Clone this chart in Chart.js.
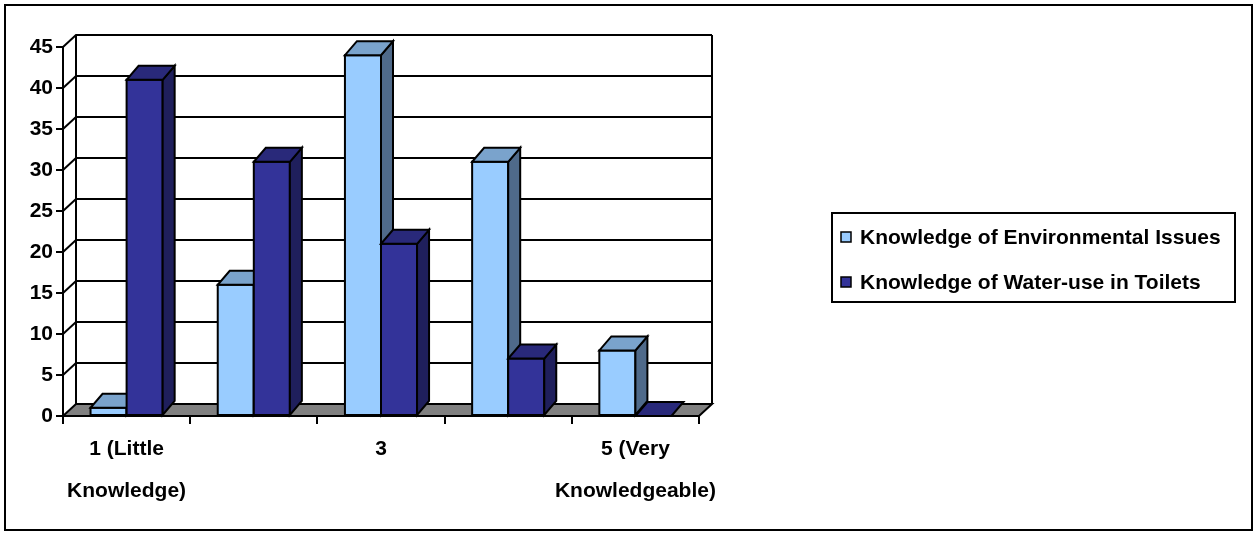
<!DOCTYPE html>
<html><head><meta charset="utf-8">
<script src="https://cdn.jsdelivr.net/npm/chart.js@4.4.0/dist/chart.umd.min.js"></script>
<style>html,body{margin:0;padding:0;background:#fff}canvas{display:block}</style>
</head><body>
<canvas id="c" width="1256" height="533"></canvas>
<script>
const categories = ["1 (Little Knowledge)", "2", "3", "4", "5 (Very Knowledgeable)"];
const tickLabels = [["1 (Little", "Knowledge)"], "", "3", "", ["5 (Very", "Knowledgeable)"]];
const envValues = [1, 16, 44, 31, 8];
const waterValues = [41, 31, 21, 7, 0];
const seriesNames = ["Knowledge of Environmental Issues", "Knowledge of Water-use in Toilets"];
const yTicks = [0, 5, 10, 15, 20, 25, 30, 35, 40, 45];

// pick a narrow face if one is installed, otherwise regular Liberation Sans
function hasFont(name) {
  const c = document.createElement('canvas').getContext('2d');
  c.font = "bold 40px monospace";
  const w0 = c.measureText("Knowledge of Water").width;
  c.font = "bold 40px '" + name + "', monospace";
  return Math.abs(c.measureText("Knowledge of Water").width - w0) > 1;
}
let FONT = "'Liberation Sans', Arial, sans-serif", FS = 21;
if (hasFont('Liberation Sans Narrow')) { FONT = "'Liberation Sans Narrow', 'Liberation Sans', sans-serif"; FS = 25.5; }
else if (hasFont('Arial Narrow')) { FONT = "'Arial Narrow', 'Liberation Sans', sans-serif"; FS = 25.5; }

const WALL = {dx: 13, dy: -12};
const BAR = {dx: 12, dy: -14};
const faces = [
  {front: '#99CCFF', top: '#7AA3CC', side: '#4F6A8A'},
  {front: '#333399', top: '#29297A', side: '#1F1F5C'}
];

function poly(ctx, pts, fill) {
  ctx.beginPath();
  ctx.moveTo(pts[0][0], pts[0][1]);
  for (let k = 1; k < pts.length; k++) ctx.lineTo(pts[k][0], pts[k][1]);
  ctx.closePath();
  if (fill) { ctx.fillStyle = fill; ctx.fill(); }
  ctx.stroke();
}

const threeD = {
  id: 'threeD',
  beforeDatasetsDraw(chart) {
    const {ctx, chartArea: a, scales: {y}} = chart;
    ctx.save();
    ctx.lineWidth = 2; ctx.strokeStyle = '#000'; ctx.lineJoin = 'miter';
    for (const v of yTicks) {
      if (v === 0) continue;
      const py = y.getPixelForValue(v);
      ctx.beginPath();
      ctx.moveTo(a.left, py);
      ctx.lineTo(a.left + WALL.dx, py + WALL.dy);
      ctx.lineTo(a.right + WALL.dx, py + WALL.dy);
      ctx.stroke();
    }
    const top = y.getPixelForValue(yTicks[yTicks.length - 1]) + WALL.dy;
    const y0 = y.getPixelForValue(0);
    ctx.beginPath();
    ctx.moveTo(a.left + WALL.dx, top); ctx.lineTo(a.left + WALL.dx, y0 + WALL.dy);
    ctx.moveTo(a.right + WALL.dx, top); ctx.lineTo(a.right + WALL.dx, y0 + WALL.dy);
    ctx.stroke();
    poly(ctx, [[a.left, y0], [a.right, y0], [a.right + WALL.dx, y0 + WALL.dy], [a.left + WALL.dx, y0 + WALL.dy]], '#808080');
    ctx.restore();
  },
  afterDatasetsDraw(chart) {
    const ctx = chart.ctx;
    const metas = chart.getSortedVisibleDatasetMetas();
    ctx.save();
    ctx.lineWidth = 2; ctx.strokeStyle = '#000'; ctx.lineJoin = 'miter';
    for (let i = 0; i < chart.data.labels.length; i++) {
      metas.forEach((meta, d) => {
        const el = meta.data[i];
        const p = el.getProps(['x', 'y', 'base', 'width'], true);
        const x0 = p.x - p.width / 2, x1 = p.x + p.width / 2;
        const f = faces[d];
        if (p.base - p.y > 0.5) {
          poly(ctx, [[x0, p.y], [x1, p.y], [x1, p.base], [x0, p.base]], f.front);
          poly(ctx, [[x1, p.base], [x1, p.y], [x1 + BAR.dx, p.y + BAR.dy], [x1 + BAR.dx, p.base + BAR.dy]], f.side);
        }
        poly(ctx, [[x0, p.y], [x1, p.y], [x1 + BAR.dx, p.y + BAR.dy], [x0 + BAR.dx, p.y + BAR.dy]], f.top);
      });
    }
    ctx.restore();
  },
  afterDraw(chart) {
    const ctx = chart.ctx;
    ctx.save();
    ctx.strokeStyle = '#000';
    ctx.lineWidth = 2;
    ctx.strokeRect(5, 5, 1247, 525);
    // legend
    ctx.strokeRect(832, 213, 403, 89);
    const rows = [238, 283];
    chart.data.datasets.forEach((ds, d) => {
      const cy = rows[d];
      ctx.lineWidth = 1.5;
      ctx.fillStyle = ds.backgroundColor;
      ctx.fillRect(841, cy - 6, 10, 10);
      ctx.strokeRect(841, cy - 6, 10, 10);
      ctx.fillStyle = '#000';
      ctx.font = "bold " + FS + "px " + FONT;
      ctx.textBaseline = 'middle';
      ctx.textAlign = 'left';
      ctx.fillText(ds.label, 860, cy);
    });
    ctx.restore();
  }
};

new Chart(document.getElementById('c'), {
  type: 'bar',
  data: {
    labels: categories,
    datasets: [
      {label: seriesNames[0], data: envValues, backgroundColor: faces[0].front, borderWidth: 0, categoryPercentage: 0.567, barPercentage: 1},
      {label: seriesNames[1], data: waterValues, backgroundColor: faces[1].front, borderWidth: 0, categoryPercentage: 0.567, barPercentage: 1}
    ]
  },
  options: {
    responsive: false, animation: false, devicePixelRatio: 1,
    layout: {padding: {top: 47, right: 557, left: 0, bottom: 0}},
    plugins: {legend: {display: false}, tooltip: {enabled: false}},
    scales: {
      x: {
        grid: {offset: true, drawOnChartArea: false, drawTicks: true, tickLength: 8, color: '#000', lineWidth: 2},
        border: {display: true, color: '#000', width: 2},
        ticks: {autoSkip: false, maxRotation: 0, minRotation: 0, padding: 4, color: '#000',
          font: {family: FONT, size: FS, weight: 'bold', lineHeight: 42 / FS},
          callback: (v, i) => tickLabels[i]},
        afterFit(s) { s.height = 117; }
      },
      y: {
        min: 0, max: 45,
        afterBuildTicks(s) { s.ticks = yTicks.map(v => ({value: v})); },
        grid: {drawOnChartArea: false, drawTicks: true, tickLength: 7, color: '#000', lineWidth: 2},
        border: {display: true, color: '#000', width: 2},
        ticks: {padding: 3, color: '#000', font: {family: FONT, size: FS, weight: 'bold'}},
        afterFit(s) { s.width = 63; }
      }
    }
  },
  plugins: [threeD]
});
</script>
</body></html>
